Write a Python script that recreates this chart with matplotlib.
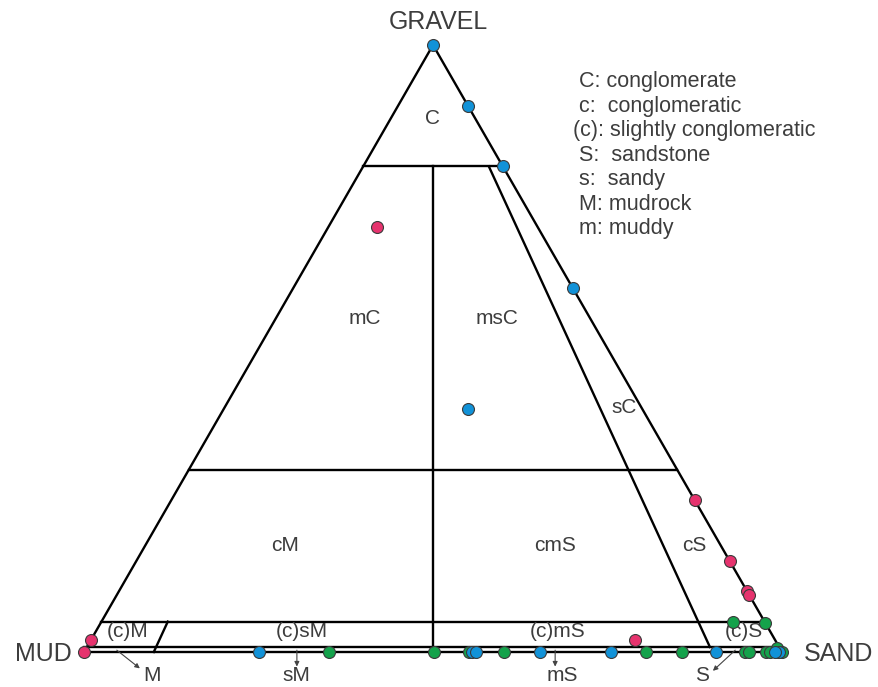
import numpy as np
import matplotlib
matplotlib.use('Agg')
from matplotlib import pyplot as plt

plt.rcParams['font.family'] = ['Liberation Sans', 'DejaVu Sans']

TXT = '#3d3d3d'

# samples as (gravel, sand) fractions, mud = 1 - gravel - sand
blue_gravel = [1.00, 0.90, 0.80, 0.60, 0.40, 0, 0, 0, 0, 0, 0, 0, 0]
blue_sand = [0.00, 0.10, 0.20, 0.40, 0.35, 0.251, 0.556, 0.562, 0.653, 0.755, 0.905, 0.996, 0.99]

pink_gravel = [0.70, 0.25, 0.15, 0.10, 0.094, 0.02, 0.02, 0.0]
pink_sand = [0.07, 0.75, 0.85, 0.90, 0.906, 0.78, 0.0, 0.0]

green_gravel = [0.05, 0.048, 0, 0, 0, 0, 0, 0, 0, 0, 0, 0, 0, 0.006, 0]
green_sand = [0.905, 0.952, 0.351, 0.501, 0.552, 0.602, 0.805, 0.857, 0.947, 0.953, 0.977, 0.983, 0.994, 0.99, 1.0]

# classification boundaries
gravel_levels = [0.80, 0.30, 0.05]
trace = 0.0082   # drawn (exaggerated) position of the trace-gravel line

region_labels = ['C', 'mC', 'msC', 'sC', 'cM', 'cmS', 'cS', '(c)M', '(c)sM', '(c)mS', '(c)S']
region_pos = [(0.500, 0.879), (0.403, 0.550), (0.592, 0.550), (0.774, 0.402),
              (0.288, 0.176), (0.675, 0.176), (0.875, 0.176),
              (0.063, 0.033), (0.312, 0.033), (0.679, 0.033), (0.946, 0.033)]

legend_lines = ['C: conglomerate', 'c:  conglomeratic', '(c): slightly conglomeratic',
                'S:  sandstone', 's:  sandy', 'M: mudrock', 'm: muddy']


def tern(g, s):
    g = np.asarray(g, dtype=float)
    s = np.asarray(s, dtype=float)
    return s + g / 2.0, g


fig = plt.figure(figsize=(8.79, 6.87), dpi=100)
ax = fig.add_axes([0, 0, 1, 1])
ax.set_xlim(-84 / 698, 795 / 698)
ax.set_ylim(-35 / 607, 652 / 607)
ax.axis('off')

lw = 1.7
k = 'black'

# outer triangle sides (down to the trace strip)
x, y = tern([1, trace], [0, 0])
ax.plot(x, y, color=k, lw=lw)
x, y = tern([1, trace], [0, 1 - trace])
ax.plot(x, y, color=k, lw=lw)

# trace strip
for g in [0, trace]:
    ax.plot([0, 1], [g, g], color=k, lw=lw)

# gravel level lines
for g in gravel_levels:
    x, y = tern([g, g], [0, 1 - g])
    ax.plot(x, y, color=k, lw=lw)

# sand:mud ratio lines
x, y = tern([0.80, trace], [0.10, 0.5 * (1 - trace)])
ax.plot(x, y, color=k, lw=lw)
x, y = tern([0.80, trace], [0.18, 0.9 * (1 - trace)])
ax.plot(x, y, color=k, lw=lw)
x, y = tern([0.05, 0.0], [0.095, 0.1])
ax.plot(x, y, color=k, lw=lw)

ms = 8.6
mk = dict(marker='o', ls='none', ms=ms, mec='#3a3a3a', mew=0.8, zorder=5)
x, y = tern(green_gravel, green_sand)
ax.plot(x, y, mfc='#14a24b', **mk)
x, y = tern(pink_gravel, pink_sand)
ax.plot(x, y, mfc='#e6336e', **mk)
x, y = tern(blue_gravel, blue_sand)
ax.plot(x, y, mfc='#1192d8', **mk)

# corner labels
ax.text(0.507, 1.038, 'GRAVEL', fontsize=18, color=TXT, ha='center', va='center')
ax.text(-0.017, -0.004, 'MUD', fontsize=18, color=TXT, ha='right', va='center')
ax.text(1.031, -0.004, 'SAND', fontsize=18, color=TXT, ha='left', va='center')

for lab, (px, py) in zip(region_labels, region_pos):
    ax.text(px, py, lab, fontsize=15, color=TXT, ha='center', va='center')

# arrows to the trace-gravel classes
arrows = [('M', (0.047, 0.003), (0.080, -0.027), (0.097, -0.048)),
          ('sM', (0.305, 0.003), (0.305, -0.024), (0.304, -0.048)),
          ('mS', (0.675, 0.003), (0.675, -0.024), (0.685, -0.048)),
          ('S', (0.933, 0.003), (0.901, -0.031), (0.885, -0.047))]
for lab, start, end, tpos in arrows:
    ax.annotate('', xy=end, xytext=start,
                arrowprops=dict(arrowstyle='-|>', color='#444444', lw=0.8,
                                mutation_scale=7, shrinkA=0, shrinkB=0))
    ax.text(tpos[0], tpos[1], lab, fontsize=15, color=TXT, ha='center', va='baseline')

# legend text
y0 = (652 - 82) / 607
dy = 24.4 / 607
for i, line in enumerate(legend_lines):
    xx = (573 - 84) / 698 if line.startswith('(') else (579 - 84) / 698
    ax.text(xx, y0 - i * dy, line, fontsize=15.5, color=TXT, ha='left', va='center')

fig.savefig('out.png', dpi=100)
